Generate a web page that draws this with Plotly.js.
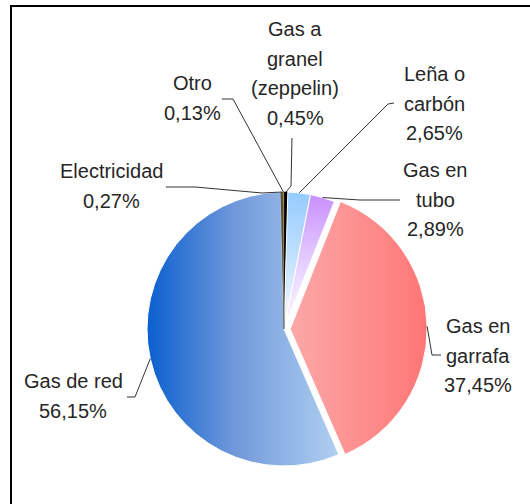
<!DOCTYPE html>
<html>
<head>
<meta charset="utf-8">
<script src="https://cdn.plot.ly/plotly-3.0.1.min.js"></script>
<style>
html,body{margin:0;padding:0;background:#fff;}
#chart{width:530px;height:504px;}
</style>
</head>
<body>
<div id="chart"></div>
<script>
// ---- data ----
const labels = ['Gas a granel (zeppelin)', 'Leña o carbón', 'Gas en tubo', 'Gas en garrafa', 'Gas de red', 'Electricidad', 'Otro'];
const values = [0.45, 2.65, 2.89, 37.45, 56.15, 0.27, 0.13];
const labelLines = [['Gas a', 'granel', '(zeppelin)'], ['Leña o', 'carbón'], ['Gas en', 'tubo'], ['Gas en', 'garrafa'], ['Gas de red'], ['Electricidad'], ['Otro']];
const sliceColors = ['#000000', '#99ccff', '#cc99ff', '#ff8a8a', '#5a8fd8', '#505050', '#d4a017'];
const pulls = [0, 0, 0, 0.045, 0, 0, 0];

// ---- layout geometry (pixels) ----
const W = 530, H = 504;
const CX = 284, CY = 329, R = 137;
const maxPull = Math.max.apply(null, pulls);
const half = R * (1 + maxPull);
const dom = {x: [(CX - half) / W, (CX + half) / W], y: [1 - (CY + half) / H, 1 - (CY - half) / H]};

// label block: first-line centre (px), leader (end, elbows)
const labelPos = [
  {x: 295, y: 29, leader: [[292, 138], [291, 186]]},
  {x: 434, y: 74, leader: [[394, 103], [388, 104]]},
  {x: 435, y: 170, leader: [[400, 200], [360, 200]]},
  {x: 478, y: 326, leader: [[441, 355], [432, 355]]},
  {x: 73, y: 381, leader: [[127, 397], [135, 397]]},
  {x: 111, y: 171, leader: [[166, 187], [195, 187], [262, 193]]},
  {x: 192, y: 83, leader: [[222, 99], [233, 99]]}
];
const LINE_STEP = 29.7;

const px = x => x / W;
const py = y => 1 - y / H;
const fmt = v => v.toFixed(2).replace('.', ',') + '%';

// slice mid angles from data
const total = values.reduce((a, b) => a + b, 0);
let cum = 0;
const edgePts = values.map((v, i) => {
  const a0 = cum / total * 2 * Math.PI;
  cum += v;
  const a1 = cum / total * 2 * Math.PI;
  const m = (a0 + a1) / 2;
  const off = pulls[i] * R;
  return [CX + (R + off) * Math.sin(m), CY - (R + off) * Math.cos(m)];
});

const annotations = [];
const shapes = [];
labels.forEach((lab, i) => {
  const lines = labelLines[i].concat([fmt(values[i])]);
  lines.forEach((t, k) => {
    annotations.push({
      xref: 'paper', yref: 'paper', x: px(labelPos[i].x), y: py(labelPos[i].y + k * LINE_STEP),
      xanchor: 'center', yanchor: 'middle', showarrow: false, text: t,
      font: {family: 'Liberation Sans, Arial, sans-serif', size: 20, color: '#262626'}
    });
  });
  const pts = labelPos[i].leader.concat([edgePts[i]]);
  const d = pts.map((p, k) => (k ? 'L' : 'M') + px(p[0]).toFixed(5) + ',' + py(p[1]).toFixed(5)).join(' ');
  shapes.push({type: 'path', xref: 'paper', yref: 'paper', path: d, line: {color: '#333', width: 1}});
});

// frame (left and top edges visible)
shapes.push({type: 'rect', xref: 'paper', yref: 'paper', x0: px(11), x1: px(545), y0: py(525), y1: py(6), line: {color: '#000', width: 2}, fillcolor: 'rgba(0,0,0,0)'});

const trace = {
  type: 'pie', labels: labels, values: values, sort: false, direction: 'clockwise', rotation: 0,
  pull: pulls, textinfo: 'none', hoverinfo: 'none', showlegend: false,
  domain: dom,
  marker: {colors: sliceColors, line: {color: ['#000', '#fff', '#fff', '#fff', '#fff', '#444', '#555'], width: [0.5, 1, 1, 1, 1, 0.4, 0.4]}}
};

const layout = {
  width: W, height: H, margin: {l: 0, r: 0, t: 0, b: 0},
  paper_bgcolor: '#fff', plot_bgcolor: '#fff', showlegend: false,
  annotations: annotations, shapes: shapes
};

Plotly.newPlot('chart', [trace], layout, {staticPlot: true}).then(function (gd) {
  const NS = 'http://www.w3.org/2000/svg';
  const svg = gd.querySelector('svg.main-svg');
  let defs = svg.querySelector('defs');
  if (!defs) { defs = document.createElementNS(NS, 'defs'); svg.insertBefore(defs, svg.firstChild); }
  function grad(id, x2, y2, stops) {
    const g = document.createElementNS(NS, 'linearGradient');
    g.setAttribute('id', id);
    g.setAttribute('x1', '0'); g.setAttribute('y1', '0');
    g.setAttribute('x2', x2); g.setAttribute('y2', y2);
    stops.forEach(s => {
      const st = document.createElementNS(NS, 'stop');
      st.setAttribute('offset', s[0]); st.setAttribute('stop-color', s[1]);
      g.appendChild(st);
    });
    defs.appendChild(g);
  }
  grad('gRed', '1', '0', [['0', '#0a5fcf'], ['0.45', '#6f98da'], ['1', '#b0d0f0']]);
  grad('gGarrafa', '1', '0', [['0', '#fca8a8'], ['1', '#ff7676']]);
  grad('gLena', '0', '1', [['0', '#95cbff'], ['0.55', '#c8e4ff'], ['1', '#ffffff']]);
  grad('gTubo', '0', '1', [['0', '#c890ff'], ['0.45', '#e2c8ff'], ['1', '#ffffff']]);
  const fills = {1: 'gLena', 2: 'gTubo', 3: 'gGarrafa', 4: 'gRed'};
  const paths = gd.querySelectorAll('g.slice path.surface');
  paths.forEach((p, i) => { if (fills[i]) p.style.fill = 'url(#' + fills[i] + ')'; });
});
</script>
</body>
</html>
